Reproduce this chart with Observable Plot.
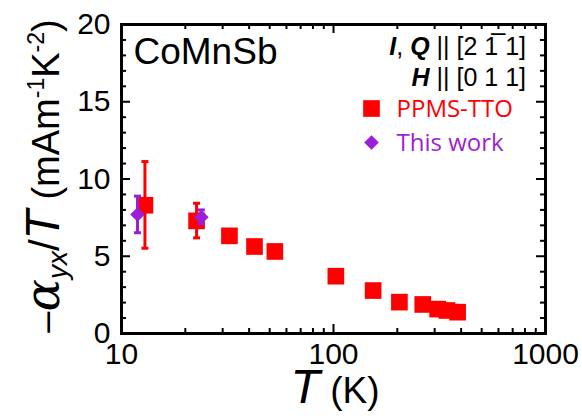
<!DOCTYPE html>
<html><head><meta charset="utf-8">
<script src="https://cdn.jsdelivr.net/npm/d3@7"></script>
<script src="https://cdn.jsdelivr.net/npm/@observablehq/plot@0.6"></script>
<style>body{margin:0;background:#fff} #chart{width:582px;height:416px}</style>
</head><body><div id="chart"></div>
<script>
// ---- data ----
const ppmsT   = [12.9, 22.6, 32.3, 42.4, 52.9, 102.6, 153.8, 204.6, 263.6, 310, 343, 385];
const ppmsY   = [8.30, 7.29, 6.32, 5.63, 5.31, 3.71, 2.78, 2.03, 1.88, 1.58, 1.49, 1.38];
const ppmsErrT  = [12.9, 22.6];
const ppmsErrLo = [5.52, 6.19];
const ppmsErrHi = [11.13, 8.43];
const workT   = [11.9, 23.8];
const workY   = [7.70, 7.53];
const workErrLo = [6.52, 7.10];
const workErrHi = [8.89, 8.00];
const xTicks = [10, 100, 1000];
const xMinor = [20, 30, 40, 50, 60, 70, 80, 90, 200, 300, 400, 500, 600, 700, 800, 900];
const yTicks = [0, 5, 10, 15, 20];
const yMinor = [1,2,3,4,6,7,8,9,11,12,13,14,16,17,18,19];
const sampleName = "CoMnSb";
const seriesNames = ["PPMS-TTO", "This work"];
const red = "#ff0000", purple = "#9b1fd6";

const ppms = ppmsT.map((t, i) => ({t, v: ppmsY[i]}));
const ppmsErr = ppmsErrT.map((t, i) => ({t, lo: ppmsErrLo[i], hi: ppmsErrHi[i]}));
const work = workT.map((t, i) => ({t, v: workY[i]}));
const workErr = workT.map((t, i) => ({t, lo: workErrLo[i], hi: workErrHi[i]}));

const W = 582, H = 416, mL = 121, mR = 37, mT = 24, mB = 83;
const pw = W - mL - mR, ph = H - mT - mB;
const cap = {draw(ctx) { ctx.moveTo(-3.5, 0); ctx.lineTo(3.5, 0); }};
const tickStyle = {stroke: "#000", strokeWidth: 2};
const sans = "'Liberation Sans', Arial, sans-serif";

const chart = Plot.plot({
  width: W, height: H,
  marginLeft: mL, marginRight: mR, marginTop: mT, marginBottom: mB,
  style: {fontFamily: sans, background: "#fff"},
  x: {type: "log", domain: [10, 1000]},
  y: {domain: [0, 20]},
  marks: [
    // inward ticks
    Plot.tickX(xMinor, {...tickStyle, insetTop: ph - 5}),
    Plot.tickX(xMinor, {...tickStyle, insetBottom: ph - 5}),
    Plot.tickX(xTicks, {...tickStyle, insetTop: ph - 9}),
    Plot.tickX(xTicks, {...tickStyle, insetBottom: ph - 9}),
    Plot.tickY(yMinor, {...tickStyle, insetRight: pw - 5}),
    Plot.tickY(yMinor, {...tickStyle, insetLeft: pw - 5}),
    Plot.tickY(yTicks, {...tickStyle, insetRight: pw - 9}),
    Plot.tickY(yTicks, {...tickStyle, insetLeft: pw - 9}),
    Plot.axisX({ticks: xTicks, tickSize: 0, tickPadding: 9, fontSize: 30, fontFamily: sans, label: null, tickFormat: d => String(d)}),
    Plot.axisY({ticks: yTicks, tickSize: 0, tickPadding: 11, fontSize: 30, fontFamily: sans, label: null}),
    // PPMS error bars + squares
    Plot.ruleX(ppmsErr, {x: "t", y1: "lo", y2: "hi", stroke: red, strokeWidth: 3}),
    Plot.dot(ppmsErr, {x: "t", y: "lo", symbol: cap, stroke: red, strokeWidth: 3, fill: "none"}),
    Plot.dot(ppmsErr, {x: "t", y: "hi", symbol: cap, stroke: red, strokeWidth: 3, fill: "none"}),
    Plot.dot(ppms, {x: "t", y: "v", symbol: "square", r: 9.4, fill: red}),
    // This work
    Plot.ruleX(workErr, {x: "t", y1: "lo", y2: "hi", stroke: purple, strokeWidth: 3}),
    Plot.dot(workErr, {x: "t", y: "lo", symbol: cap, stroke: purple, strokeWidth: 3, fill: "none"}),
    Plot.dot(workErr, {x: "t", y: "hi", symbol: cap, stroke: purple, strokeWidth: 3, fill: "none"}),
    Plot.dot(work, {x: "t", y: "v", symbol: "diamond2", r: 6.6, fill: purple}),
    // legend
    Plot.dot([seriesNames[0]], {frameAnchor: "top-left", dx: 250, dy: 84, symbol: "square", r: 9.4, fill: red}),
    Plot.dot([seriesNames[1]], {frameAnchor: "top-left", dx: 250, dy: 118, symbol: "diamond2", r: 6.6, fill: purple}),
    Plot.text([seriesNames[0]], {frameAnchor: "top-left", dx: 275, dy: 85, text: d => d, fill: red, fontSize: 24, textAnchor: "start", lineAnchor: "middle", fontFamily: "'Open Sans', 'Noto Sans', sans-serif"}),
    Plot.text([seriesNames[1]], {frameAnchor: "top-left", dx: 275, dy: 119, text: d => d, fill: purple, fontSize: 24, textAnchor: "start", lineAnchor: "middle", fontFamily: "'Open Sans', 'Noto Sans', sans-serif"}),
    Plot.text([sampleName], {frameAnchor: "top-left", dx: 12, dy: 39, text: d => d, fontSize: 37, fontFamily: sans, textAnchor: "start", lineAnchor: "bottom"}),
    Plot.frame({stroke: "#000", strokeWidth: 3})
  ]
});
document.getElementById("chart").appendChild(chart);

// rich-text labels
const svg = d3.select(chart);
function rich(parent, parts) {
  for (const p of parts) {
    const ts = parent.append("tspan").text(p.t);
    if (p.i) ts.attr("font-style", "italic");
    if (p.b) ts.attr("font-weight", "bold");
    if (p.s) ts.attr("font-size", p.s);
    if (p.f) ts.attr("font-family", p.f);
    if (p.dy) ts.attr("dy", p.dy);
  }
}
// annotation lines
const ann1 = svg.append("text").attr("x", 526).attr("y", 55).attr("text-anchor", "end")
  .attr("font-family", sans).attr("font-size", 25);
rich(ann1, [{t: "I", i: 1, b: 1}, {t: ", "}, {t: "Q", i: 1, b: 1}, {t: " || [2 1\u0305 1]"}]);
const ann2 = svg.append("text").attr("x", 526).attr("y", 86).attr("text-anchor", "end")
  .attr("font-family", sans).attr("font-size", 25);
rich(ann2, [{t: "H", i: 1, b: 1}, {t: " || [0 1 1]"}]);
// x label
const xl = svg.append("text").attr("x", 335).attr("y", 403).attr("text-anchor", "middle")
  .attr("font-family", sans).attr("font-size", 37);
rich(xl, [{t: "T", i: 1, s: 48}, {t: " (K)"}]);
// y label
const yl = svg.append("text").attr("transform", "translate(59,176) rotate(-90)").attr("text-anchor", "middle")
  .attr("font-family", sans).attr("font-size", 38);
rich(yl, [
  {t: "\u2013"}, {t: "\u03b1", i: 1, s: 48, f: "'DejaVu Serif', serif"},
  {t: "yx", i: 1, s: 28, dy: 8}, {t: "/", s: 42, dy: -8}, {t: "T", i: 1, s: 48},
  {t: " (mAm"}, {t: "-1", s: 23, dy: -15}, {t: "K", dy: 15}, {t: "-2", s: 23, dy: -15}, {t: ")", dy: 15}
]);
</script></body></html>
